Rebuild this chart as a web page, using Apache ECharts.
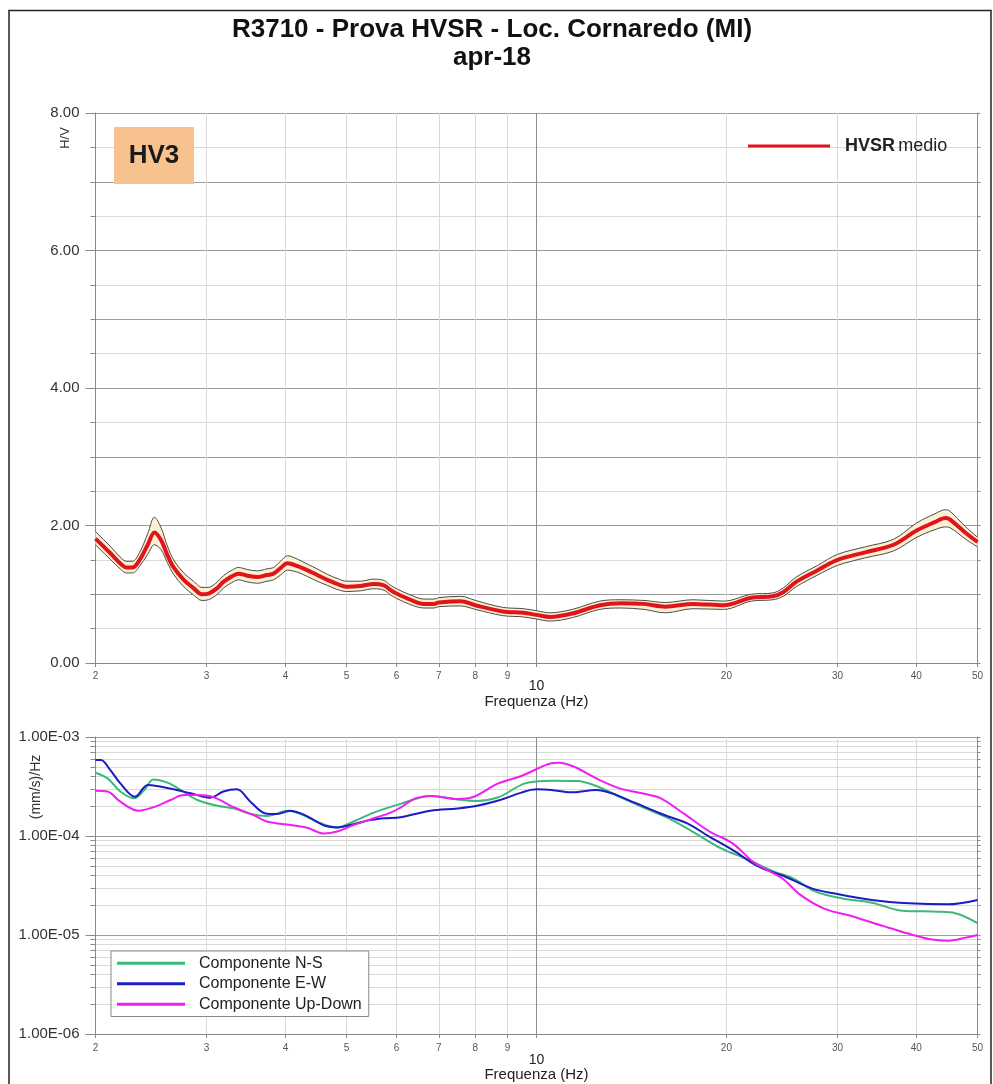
<!DOCTYPE html>
<html>
<head>
<meta charset="utf-8">
<title>R3710 - Prova HVSR - Loc. Cornaredo (MI)</title>
<script src="https://cdn.jsdelivr.net/npm/echarts@6/dist/echarts.min.js"></script>
<style>
  html, body { margin: 0; padding: 0; background: #ffffff; }
  #chart { width: 993px; height: 1084px; }
</style>
</head>
<body>
<div id="chart"></div>
<script>
// ---------- H/V spectral ratio (mean curve with its ± band) ----------
const hvFreq = [2.00, 2.11, 2.20, 2.24, 2.29, 2.35, 2.42, 2.48, 2.54, 2.60, 2.66, 2.76, 2.86, 2.95,
  3.02, 3.12, 3.19, 3.29, 3.37, 3.48, 3.61, 3.74, 3.83, 3.93, 4.03, 4.18, 4.33, 4.49, 4.66, 4.83,
  5.00, 5.26, 5.52, 5.73, 5.87, 6.00, 6.31, 6.63, 6.88, 7.00, 7.58, 8.00, 8.83, 9.53, 10.0, 10.5,
  11.4, 12.6, 13.6, 14.8, 16.0, 17.7, 19.8, 21.9, 23.7, 24.6, 25.8, 27.9, 30.0, 33.2, 36.8, 40.1,
  42.8, 44.5, 45.2, 47.9, 50.0];
const hvMean = [1.81, 1.60, 1.43, 1.39, 1.39, 1.50, 1.72, 1.90, 1.79, 1.57, 1.39, 1.21, 1.09, 1.00,
  1.01, 1.09, 1.18, 1.26, 1.30, 1.27, 1.25, 1.28, 1.30, 1.38, 1.45, 1.41, 1.35, 1.28, 1.21, 1.15,
  1.11, 1.12, 1.15, 1.13, 1.06, 1.01, 0.92, 0.86, 0.86, 0.88, 0.90, 0.84, 0.75, 0.73, 0.70, 0.67,
  0.72, 0.84, 0.87, 0.86, 0.82, 0.86, 0.84, 0.95, 0.97, 1.03, 1.18, 1.35, 1.50, 1.61, 1.72, 1.93,
  2.05, 2.11, 2.09, 1.89, 1.76];
const hvUpper = [1.91, 1.70, 1.52, 1.48, 1.48, 1.61, 1.88, 2.12, 1.97, 1.70, 1.50, 1.31, 1.19, 1.10,
  1.10, 1.18, 1.27, 1.35, 1.39, 1.36, 1.34, 1.37, 1.39, 1.48, 1.56, 1.51, 1.44, 1.37, 1.29, 1.23,
  1.19, 1.19, 1.22, 1.20, 1.13, 1.08, 0.99, 0.93, 0.93, 0.95, 0.97, 0.91, 0.81, 0.79, 0.76, 0.73,
  0.78, 0.90, 0.92, 0.91, 0.88, 0.92, 0.90, 1.00, 1.02, 1.09, 1.25, 1.42, 1.58, 1.69, 1.80, 2.04,
  2.17, 2.23, 2.21, 1.98, 1.83];
const hvLower = [1.72, 1.51, 1.35, 1.31, 1.31, 1.41, 1.58, 1.72, 1.65, 1.46, 1.29, 1.11, 0.99, 0.91,
  0.92, 1.00, 1.09, 1.17, 1.21, 1.18, 1.16, 1.19, 1.21, 1.28, 1.35, 1.32, 1.26, 1.19, 1.13, 1.07,
  1.04, 1.05, 1.08, 1.06, 0.99, 0.94, 0.85, 0.80, 0.80, 0.82, 0.83, 0.78, 0.69, 0.67, 0.64, 0.61,
  0.66, 0.78, 0.80, 0.78, 0.73, 0.79, 0.78, 0.90, 0.92, 0.97, 1.11, 1.28, 1.42, 1.53, 1.63, 1.83,
  1.94, 1.98, 1.97, 1.80, 1.69];

// ---------- spectra of the three components, (mm/s)/Hz ----------
const nsFreq = [2.00, 2.09, 2.19, 2.30, 2.39, 2.47, 2.60, 2.73, 2.90, 3.12, 3.31, 3.52, 3.74, 4.03,
  4.23, 4.55, 4.83, 5.13, 5.52, 6.09, 6.79, 7.49, 8.02, 8.70, 9.59, 10.56, 11.61, 12.44, 13.54,
  14.88, 16.40, 18.06, 19.62, 21.6, 23.8, 25.5, 27.7, 30.5, 34.0, 38.0, 43.0, 46.1, 50.0];
const nsSpec = [4.36e-4, 3.82e-4, 2.81e-4, 2.40e-4, 2.92e-4, 3.73e-4, 3.46e-4, 2.92e-4, 2.31e-4,
  2.02e-4, 1.90e-4, 1.67e-4, 1.59e-4, 1.80e-4, 1.67e-4, 1.34e-4, 1.22e-4, 1.40e-4, 1.72e-4,
  2.11e-4, 2.54e-4, 2.34e-4, 2.26e-4, 2.46e-4, 3.40e-4, 3.62e-4, 3.60e-4, 3.20e-4, 2.49e-4,
  1.90e-4, 1.45e-4, 1.02e-4, 7.50e-5, 5.81e-5, 4.37e-5, 3.74e-5, 2.74e-5, 2.34e-5, 2.12e-5,
  1.76e-5, 1.72e-5, 1.66e-5, 1.32e-5];

const ewFreq = [2.00, 2.04, 2.11, 2.19, 2.31, 2.42, 2.50, 2.66, 2.83, 3.04, 3.19, 3.35, 3.52, 3.72,
  3.88, 4.07, 4.23, 4.44, 4.63, 4.83, 5.07, 5.39, 5.73, 6.09, 6.79, 7.49, 8.02, 8.70, 9.46, 10.0,
  10.56, 11.32, 12.44, 13.15, 14.30, 15.95, 17.34, 18.79, 20.45, 22.5, 24.8, 27.3, 30.0, 34.0,
  39.0, 44.8, 50.0];
const ewSpec = [5.86e-4, 5.86e-4, 4.65e-4, 3.40e-4, 2.49e-4, 3.27e-4, 3.20e-4, 2.96e-4, 2.70e-4,
  2.44e-4, 2.81e-4, 2.96e-4, 2.22e-4, 1.69e-4, 1.67e-4, 1.80e-4, 1.69e-4, 1.45e-4, 1.26e-4,
  1.22e-4, 1.29e-4, 1.43e-4, 1.51e-4, 1.55e-4, 1.80e-4, 1.90e-4, 2.01e-4, 2.28e-4, 2.74e-4,
  2.96e-4, 2.92e-4, 2.76e-4, 2.92e-4, 2.70e-4, 2.17e-4, 1.63e-4, 1.34e-4, 9.84e-5, 7.23e-5,
  4.90e-5, 3.88e-5, 2.96e-5, 2.59e-5, 2.26e-5, 2.09e-5, 2.04e-5, 2.26e-5];

const udFreq = [2.00, 2.09, 2.19, 2.34, 2.47, 2.63, 2.76, 2.90, 3.08, 3.31, 3.56, 3.74, 4.07, 4.33,
  4.60, 4.83, 5.13, 5.52, 5.87, 6.09, 6.43, 6.79, 7.49, 7.91, 8.70, 9.46, 10.56, 10.85, 11.47,
  12.44, 13.54, 14.69, 15.74, 17.10, 18.8, 20.45, 22.2, 24.5, 26.2, 28.5, 31.8, 35.5, 38.7, 42.1,
  44.7, 48.1, 50.0];
const udSpec = [2.87e-4, 2.81e-4, 2.22e-4, 1.80e-4, 1.95e-4, 2.31e-4, 2.59e-4, 2.59e-4, 2.46e-4,
  1.95e-4, 1.63e-4, 1.40e-4, 1.29e-4, 1.21e-4, 1.06e-4, 1.11e-4, 1.29e-4, 1.51e-4, 1.72e-4,
  1.94e-4, 2.40e-4, 2.54e-4, 2.37e-4, 2.46e-4, 3.40e-4, 4.04e-4, 5.42e-4, 5.50e-4, 5.01e-4,
  3.82e-4, 3.03e-4, 2.70e-4, 2.40e-4, 1.69e-4, 1.11e-4, 8.43e-5, 5.30e-5, 3.74e-5, 2.54e-5,
  1.86e-5, 1.53e-5, 1.23e-5, 1.04e-5, 9.04e-6, 8.75e-6, 9.46e-6, 1.00e-5];

// ---------- axis ticks ----------
const freqTicks = [2, 3, 4, 5, 6, 7, 8, 9, 10, 20, 30, 40, 50];
const hvTicks = [0, 2, 4, 6, 8];
const psdTicks = [1e-6, 1e-5, 1e-4, 1e-3];
const psdTickLabels = ['1.00E-06', '1.00E-05', '1.00E-04', '1.00E-03'];

const FONT = "'Liberation Sans', Arial, Helvetica, sans-serif";
const GRID_MAJOR = '#9c9c9c';
const GRID_MINOR = '#dadada';

// Both frequency axes are logarithmic: the values are plotted on log10 of the frequency.
const lg = Math.log10;
const freqTickPos = freqTicks.map(lg);

// minor lines of the PSD axis: 1..9 x 10^n for each decade, plus the top decade
const psdGridPos = [];
const psdGridColors = [];
for (let e = -6; e < -3; e++) {
  for (let k = 1; k <= 9; k++) {
    psdGridPos.push(lg(k) + e);
    psdGridColors.push(k === 1 ? GRID_MAJOR : GRID_MINOR);
  }
}
psdGridPos.push(-3);
psdGridColors.push(GRID_MAJOR);

function freqAxis(gridIndex, nameGap, labelMargin, bigPad) {
  return {
    type: 'value',
    gridIndex: gridIndex,
    min: lg(freqTicks[0]),
    max: lg(freqTicks[freqTicks.length - 1]),
    name: 'Frequenza (Hz)',
    nameLocation: 'middle',
    nameGap: nameGap,
    nameMoveOverlap: false,
    nameTextStyle: { fontFamily: FONT, fontSize: 15, color: '#222' },
    axisLine: { show: true, onZero: false, lineStyle: { color: '#8a8a8a', width: 1 } },
    axisTick: { show: true, customValues: freqTickPos, length: 4, lineStyle: { color: '#8a8a8a' } },
    axisLabel: {
      customValues: freqTickPos,
      margin: labelMargin,
      fontFamily: FONT,
      fontSize: 10,
      color: '#555',
      formatter: function (v) {
        const f = Math.round(Math.pow(10, v));
        return f === 10 ? '{big|10}' : String(f);
      },
      rich: {
        big: { fontFamily: FONT, fontSize: 14, color: '#222', padding: [bigPad, 0, 0, 0] }
      }
    },
    splitLine: {
      show: true,
      lineStyle: {
        width: 1,
        color: freqTicks.map(function (f) { return (f === 10 || f === 50) ? '#8c8c8c' : GRID_MINOR; })
      }
    }
  };
}

function xy(freqs, vals, useLog) {
  return freqs.map(function (f, i) { return [lg(f), useLog ? lg(vals[i]) : vals[i]]; });
}

const upperPts = xy(hvFreq, hvUpper);
const lowerPts = xy(hvFreq, hvLower);

const chart = echarts.init(document.getElementById('chart'), null, { renderer: 'canvas' });

const option = {
  animation: false,
  backgroundColor: '#ffffff',
  title: {
    text: 'R3710 - Prova HVSR - Loc. Cornaredo (MI)\napr-18',
    left: 487,
    textAlign: 'center',
    top: 11,
    textStyle: { fontFamily: FONT, fontSize: 26, fontWeight: 'bold', color: '#111', lineHeight: 28 }
  },
  grid: [
    { left: 95.5, width: 882, top: 113, height: 550 },
    { left: 95.5, width: 882, top: 737, height: 297 }
  ],
  legend: [
    {
      data: ['HVSR medio'],
      left: 748,
      top: 137,
      padding: 0,
      icon: 'rect',
      itemWidth: 82,
      itemHeight: 3,
      textStyle: {
        fontFamily: FONT,
        padding: [0, 0, 0, 10],
        rich: {
          b: { fontFamily: FONT, fontSize: 18, fontWeight: 'bold', color: '#222' },
          n: { fontFamily: FONT, fontSize: 18, color: '#222' }
        }
      },
      formatter: function () { return '{b|HVSR} {n|medio}'; }
    },
    {
      data: ['Componente N-S', 'Componente E-W', 'Componente Up-Down'],
      orient: 'vertical',
      left: 111,
      top: 951,
      padding: [4, 7, 4, 6],
      itemGap: 4,
      icon: 'rect',
      itemWidth: 68,
      itemHeight: 3,
      backgroundColor: '#ffffff',
      borderColor: '#8a8a8a',
      borderWidth: 1,
      textStyle: { fontFamily: FONT, fontSize: 16, color: '#222', lineHeight: 16.5, padding: [0, 0, 0, 9] }
    }
  ],
  xAxis: [
    freqAxis(0, 31, 8, 8),
    freqAxis(1, 33, 9, 10)
  ],
  yAxis: [
    // 0: H/V values with labels
    {
      type: 'value', gridIndex: 0, position: 'left', min: 0, max: 8, interval: 2,
      axisLine: { show: true, lineStyle: { color: '#8a8a8a' } },
      axisTick: { show: true, length: 10, lineStyle: { color: '#8a8a8a' } },
      axisLabel: {
        margin: 16, fontFamily: FONT, fontSize: 15, color: '#333',
        formatter: function (v) { return v.toFixed(2); }
      },
      splitLine: { show: false }
    },
    // 1: H/V grid every 0.5
    {
      type: 'value', gridIndex: 0, position: 'left', min: 0, max: 8, interval: 0.5,
      axisLine: { show: false },
      axisTick: { show: true, length: 5, lineStyle: { color: '#8a8a8a' } },
      axisLabel: { show: false },
      splitLine: { show: true, lineStyle: { width: 1, color: [GRID_MAJOR, GRID_MINOR] } }
    },
    // 2: right frame of the H/V plot
    {
      type: 'value', gridIndex: 0, position: 'right', min: 0, max: 8, interval: 0.5,
      axisLine: { show: true, lineStyle: { color: '#8a8a8a' } },
      axisTick: { show: true, length: 3, lineStyle: { color: '#8a8a8a' } },
      axisLabel: { show: false },
      splitLine: { show: false }
    },
    // 3: spectra, log10 scale with decade labels
    {
      type: 'value', gridIndex: 1, position: 'left', min: -6, max: -3,
      axisLine: { show: true, lineStyle: { color: '#8a8a8a' } },
      axisTick: { show: true, customValues: psdTicks.map(lg), length: 10, lineStyle: { color: '#8a8a8a' } },
      axisLabel: {
        customValues: psdTicks.map(lg),
        margin: 16, fontFamily: FONT, fontSize: 15, color: '#333',
        formatter: function (v) {
          const i = psdTicks.findIndex(function (t) { return Math.abs(lg(t) - v) < 1e-6; });
          return i >= 0 ? psdTickLabels[i] : '';
        }
      },
      splitLine: { show: false }
    },
    // 4: spectra grid, 1..9 per decade
    {
      type: 'value', gridIndex: 1, position: 'left', min: -6, max: -3,
      axisLine: { show: false },
      axisTick: { show: true, customValues: psdGridPos, length: 5, lineStyle: { color: '#8a8a8a' } },
      axisLabel: { show: false },
      splitLine: { show: true, lineStyle: { width: 1, color: psdGridColors } }
    },
    // 5: right frame of the spectra plot
    {
      type: 'value', gridIndex: 1, position: 'right', min: -6, max: -3,
      axisLine: { show: true, lineStyle: { color: '#8a8a8a' } },
      axisTick: { show: true, customValues: psdGridPos, length: 3, lineStyle: { color: '#8a8a8a' } },
      axisLabel: { show: false },
      splitLine: { show: false }
    }
  ],
  series: [
    // pale band between the lower and upper curves, drawn once as a polygon
    {
      name: 'bandFill', type: 'custom', xAxisIndex: 0, yAxisIndex: 0, silent: true, z: 2,
      data: [[lg(hvFreq[0]), hvMean[0]]],
      renderItem: function (params, api) {
        const pts = upperPts.map(function (p) { return api.coord(p); })
          .concat(lowerPts.slice().reverse().map(function (p) { return api.coord(p); }));
        return {
          type: 'polygon',
          shape: { points: pts },
          style: { fill: '#fbf1d2', stroke: null }
        };
      }
    },
    {
      name: 'HVSR sup', type: 'line', xAxisIndex: 0, yAxisIndex: 0,
      data: upperPts, smooth: 0.35, symbol: 'none', silent: true,
      lineStyle: { color: '#4a4a4a', width: 1 }, z: 3
    },
    {
      name: 'HVSR inf', type: 'line', xAxisIndex: 0, yAxisIndex: 0,
      data: lowerPts, smooth: 0.35, symbol: 'none', silent: true,
      lineStyle: { color: '#4a4a4a', width: 1 }, z: 3
    },
    {
      name: 'HVSR medio', type: 'line', xAxisIndex: 0, yAxisIndex: 0,
      data: xy(hvFreq, hvMean), smooth: 0.35, symbol: 'none',
      color: '#e0141c',
      lineStyle: { color: '#e0141c', width: 4 }, z: 4
    },
    {
      name: 'Componente N-S', type: 'line', xAxisIndex: 1, yAxisIndex: 3,
      data: xy(nsFreq, nsSpec, true), smooth: 0.35, symbol: 'none',
      color: '#3cb878', lineStyle: { color: '#3cb878', width: 2 }, z: 3
    },
    {
      name: 'Componente E-W', type: 'line', xAxisIndex: 1, yAxisIndex: 3,
      data: xy(ewFreq, ewSpec, true), smooth: 0.35, symbol: 'none',
      color: '#1c1cc4', lineStyle: { color: '#1c1cc4', width: 2 }, z: 3
    },
    {
      name: 'Componente Up-Down', type: 'line', xAxisIndex: 1, yAxisIndex: 3,
      data: xy(udFreq, udSpec, true), smooth: 0.35, symbol: 'none',
      color: '#f01ef0', lineStyle: { color: '#f01ef0', width: 2 }, z: 3
    }
  ],
  graphic: [
    // outer frame
    {
      type: 'rect', silent: true, z: 100,
      shape: { x: 9, y: 10.5, width: 982, height: 1100 },
      style: { fill: 'none', stroke: '#222', lineWidth: 1.5 }
    },
    // station tag
    {
      type: 'rect', silent: true, z: 50,
      shape: { x: 114, y: 127, width: 80, height: 57 },
      style: { fill: '#f7c28e' }
    },
    {
      type: 'text', silent: true, z: 51, x: 154, y: 156,
      style: {
        text: 'HV3', font: "bold 26px 'Liberation Sans', Arial, sans-serif",
        fill: '#1a1a1a', align: 'center', verticalAlign: 'middle',
        textAlign: 'center', textVerticalAlign: 'middle'
      }
    },
    // axis titles of the vertical axes
    {
      type: 'text', silent: true, z: 51, x: 65, y: 138, rotation: Math.PI / 2,
      style: {
        text: 'H/V', font: "13px 'Liberation Sans', Arial, sans-serif",
        fill: '#333', align: 'center', verticalAlign: 'middle',
        textAlign: 'center', textVerticalAlign: 'middle'
      }
    },
    {
      type: 'text', silent: true, z: 51, x: 36, y: 787, rotation: Math.PI / 2,
      style: {
        text: '(mm/s)/Hz', font: "14px 'Liberation Sans', Arial, sans-serif",
        fill: '#333', align: 'center', verticalAlign: 'middle',
        textAlign: 'center', textVerticalAlign: 'middle'
      }
    }
  ]
};

chart.setOption(option);
</script>
</body>
</html>
